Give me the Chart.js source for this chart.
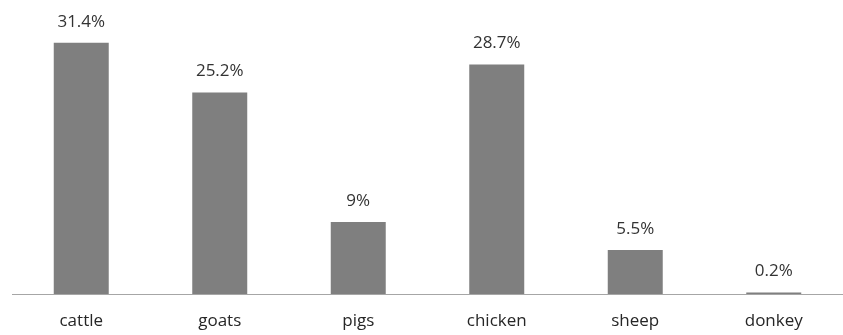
<!DOCTYPE html>
<html>
<head>
<meta charset="utf-8">
<script src="https://cdn.jsdelivr.net/npm/chart.js@4/dist/chart.umd.min.js"></script>
<style>
  html, body { margin: 0; padding: 0; background: #fff; }
  #wrap { width: 843px; height: 335px; }
</style>
</head>
<body>
<div id="wrap"><canvas id="myChart" width="843" height="335"></canvas></div>
<script>
// data
const categories = ['cattle', 'goats', 'pigs', 'chicken', 'sheep', 'donkey'];
const shares = [31.4, 25.2, 9, 28.7, 5.5, 0.2];

// labels above bars
const valueLabels = {
  id: 'valueLabels',
  afterDatasetsDraw(chart) {
    const ctx = chart.ctx;
    const meta = chart.getDatasetMeta(0);
    ctx.save();
    ctx.font = '17px "Open Sans", sans-serif';
    ctx.fillStyle = '#333333';
    ctx.textAlign = 'center';
    ctx.textBaseline = 'middle';
    meta.data.forEach((bar, i) => {
      ctx.fillText(shares[i] + '%', bar.x, bar.y - 21);
    });
    ctx.restore();
  }
};

const ctx = document.getElementById('myChart').getContext('2d');
const myChart = new Chart(ctx, {
  type: 'bar',
  data: {
    labels: categories,
    datasets: [{
      data: shares,
      backgroundColor: '#7f7f7f',
      borderWidth: 0,
      categoryPercentage: 1,
      barPercentage: 0.397
    }]
  },
  options: {
    responsive: false,
    animation: false,
    layout: { padding: { left: 12, right: 0, top: 0, bottom: 0 } },
    plugins: {
      legend: { display: false },
      tooltip: { enabled: false }
    },
    scales: {
      x: {
        grid: { display: false, drawTicks: false },
        border: { color: '#a6a6a6', width: 1 },
        ticks: {
          color: '#262626',
          font: { family: '"Open Sans", sans-serif', size: 17 },
          padding: 17
        },
        afterFit(scale) { scale.height = 41; }
      },
      y: {
        display: false,
        min: 0,
        max: 36.75
      }
    }
  },
  plugins: [valueLabels]
});
</script>
</body>
</html>
